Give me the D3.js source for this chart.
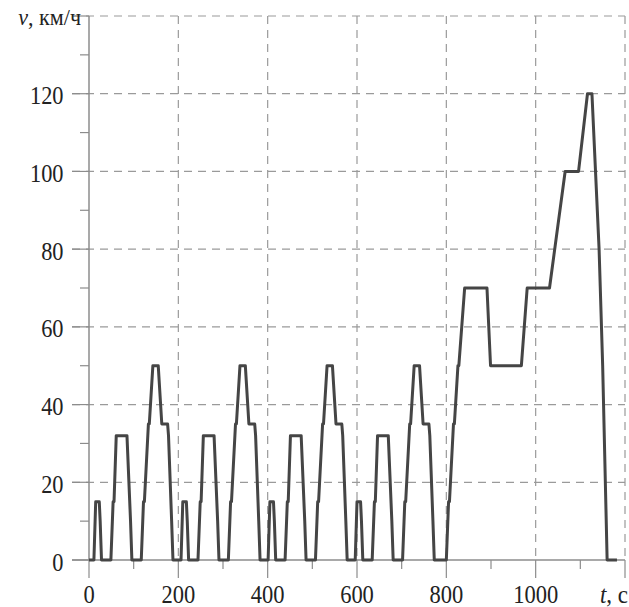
<!DOCTYPE html>
<html>
<head>
<meta charset="utf-8">
<script src="https://cdn.jsdelivr.net/npm/d3@7"></script>
<style>
  body { margin: 0; background: #fff; }
  svg { display: block; }
</style>
</head>
<body>
<svg id="chart"></svg>
<script>
// NEDC driving cycle: four urban ECE-15 cycles + one extra-urban EUDC cycle
const times = [
  0, 11, 15, 23, 25, 28, 49, 54, 56, 61, 85, 93, 96, 117, 122, 124, 133, 135, 143, 155, 163, 176, 178, 185, 188,
  195, 206, 210, 218, 220, 223, 244, 249, 251, 256, 280, 288, 291, 312, 317, 319, 328, 330, 338, 350, 358, 371, 373, 380, 383,
  390, 401, 405, 413, 415, 418, 439, 444, 446, 451, 475, 483, 486, 507, 512, 514, 523, 525, 533, 545, 553, 566, 568, 575, 578,
  585, 596, 600, 608, 610, 613, 634, 639, 641, 646, 670, 678, 681, 702, 707, 709, 718, 720, 728, 740, 748, 761, 763, 770, 773,
  780, 800, 805, 807, 816, 818, 826, 828, 841, 891, 899, 968, 981, 1031, 1066, 1096, 1116, 1126, 1142, 1150, 1160, 1182
];
const speeds = [
  0, 0, 15, 15, 10, 0, 0, 15, 15, 32, 32, 10, 0, 0, 15, 15, 35, 35, 50, 50, 35, 35, 32, 10, 0,
  0, 0, 15, 15, 10, 0, 0, 15, 15, 32, 32, 10, 0, 0, 15, 15, 35, 35, 50, 50, 35, 35, 32, 10, 0,
  0, 0, 15, 15, 10, 0, 0, 15, 15, 32, 32, 10, 0, 0, 15, 15, 35, 35, 50, 50, 35, 35, 32, 10, 0,
  0, 0, 15, 15, 10, 0, 0, 15, 15, 32, 32, 10, 0, 0, 15, 15, 35, 35, 50, 50, 35, 35, 32, 10, 0,
  0, 0, 15, 15, 35, 35, 50, 50, 70, 70, 50, 50, 70, 70, 100, 100, 120, 120, 80, 50, 0, 0
];

const xTicks = [0, 200, 400, 600, 800, 1000, 1200];
const xMinorTicks = [100, 300, 500, 700, 900, 1100];
const xTickLabels = ["0", "200", "400", "600", "800", "1000"];
const yTicks = [0, 20, 40, 60, 80, 100, 120, 140];
const yMinorTicks = [10, 30, 50, 70, 90, 110, 130];
const yTickLabels = ["0", "20", "40", "60", "80", "100", "120"];

const width = 629, height = 607;
const margin = { top: 16, right: 4, bottom: 47, left: 89 };

const svg = d3.select("#chart")
  .attr("width", width)
  .attr("height", height);

const x = d3.scaleLinear().domain([0, 1200]).range([margin.left, width - margin.right]);
const y = d3.scaleLinear().domain([0, 140]).range([height - margin.bottom, margin.top]);

const axisColor = "#8c8c8c";
const gridColor = "#9a9a9a";
const font = "\"Liberation Serif\", \"DejaVu Serif\", serif";

// horizontal dashed grid
svg.append("g")
  .selectAll("line")
  .data(yTicks.filter(d => d > 0))
  .enter().append("line")
  .attr("x1", x(0) - 17)
  .attr("x2", x(1200))
  .attr("y1", d => y(d))
  .attr("y2", d => y(d))
  .attr("stroke", gridColor)
  .attr("stroke-width", 1.2)
  .attr("stroke-dasharray", "8,6");

// vertical dashed grid
svg.append("g")
  .selectAll("line")
  .data(xTicks.filter(d => d > 0))
  .enter().append("line")
  .attr("x1", d => x(d))
  .attr("x2", d => x(d))
  .attr("y1", y(140))
  .attr("y2", y(0))
  .attr("stroke", gridColor)
  .attr("stroke-width", 1.2)
  .attr("stroke-dasharray", "8,6");

// major ticks (solid) below x axis and left of y axis
svg.append("g")
  .selectAll("line")
  .data(xTicks)
  .enter().append("line")
  .attr("x1", d => x(d))
  .attr("x2", d => x(d))
  .attr("y1", y(0))
  .attr("y2", y(0) + 18)
  .attr("stroke", axisColor)
  .attr("stroke-width", 1.2);

svg.append("g")
  .selectAll("line")
  .data(xMinorTicks)
  .enter().append("line")
  .attr("x1", d => x(d))
  .attr("x2", d => x(d))
  .attr("y1", y(0))
  .attr("y2", y(0) + 9)
  .attr("stroke", axisColor)
  .attr("stroke-width", 1.2);

svg.append("g")
  .selectAll("line")
  .data(yTicks)
  .enter().append("line")
  .attr("x1", x(0) - 17)
  .attr("x2", x(0))
  .attr("y1", d => y(d))
  .attr("y2", d => y(d))
  .attr("stroke", axisColor)
  .attr("stroke-width", 1.2);

svg.append("g")
  .selectAll("line")
  .data(yMinorTicks)
  .enter().append("line")
  .attr("x1", x(0) - 9)
  .attr("x2", x(0))
  .attr("y1", d => y(d))
  .attr("y2", d => y(d))
  .attr("stroke", axisColor)
  .attr("stroke-width", 1.2);

// axis lines
svg.append("line")
  .attr("x1", x(0)).attr("x2", x(0))
  .attr("y1", y(140)).attr("y2", y(0))
  .attr("stroke", axisColor).attr("stroke-width", 1.5);

svg.append("line")
  .attr("x1", x(0) - 17).attr("x2", x(1200))
  .attr("y1", y(0)).attr("y2", y(0))
  .attr("stroke", axisColor).attr("stroke-width", 1.5);

// tick labels (slightly condensed serif, like the scanned original)
svg.append("g")
  .selectAll("text")
  .data(yTickLabels)
  .enter().append("text")
  .attr("transform", (d, i) => `translate(${x(0) - 25.5},${y(yTicks[i]) + 10.5}) scale(0.86,1)`)
  .attr("text-anchor", "end")
  .style("font-family", font)
  .style("font-size", "26px")
  .style("fill", "#222")
  .text(d => d);

svg.append("g")
  .selectAll("text")
  .data(xTickLabels)
  .enter().append("text")
  .attr("transform", (d, i) => `translate(${x(xTicks[i])},603) scale(0.9,1)`)
  .attr("text-anchor", "middle")
  .style("font-family", font)
  .style("font-size", "25px")
  .style("fill", "#222")
  .text(d => d);

// axis titles
const yTitle = svg.append("text")
  .attr("transform", "translate(81,25) scale(0.92,1)")
  .attr("text-anchor", "end")
  .style("font-family", font)
  .style("font-size", "24px")
  .style("fill", "#222");
yTitle.append("tspan").style("font-style", "italic").text("v");
yTitle.append("tspan").text(", км/ч");

const xTitle = svg.append("text")
  .attr("transform", "translate(628,603) scale(0.92,1)")
  .attr("text-anchor", "end")
  .style("font-family", font)
  .style("font-size", "25px")
  .style("fill", "#222");
xTitle.append("tspan").style("font-style", "italic").text("t");
xTitle.append("tspan").text(", c");

// speed curve
const data = times.map((t, i) => ({ t: t, v: speeds[i] }));

svg.append("path")
  .datum(data)
  .attr("fill", "none")
  .attr("stroke", "#454545")
  .attr("stroke-width", 3)
  .attr("stroke-linejoin", "round")
  .attr("d", d3.line().x(d => x(d.t)).y(d => y(d.v)));
</script>
</body>
</html>
